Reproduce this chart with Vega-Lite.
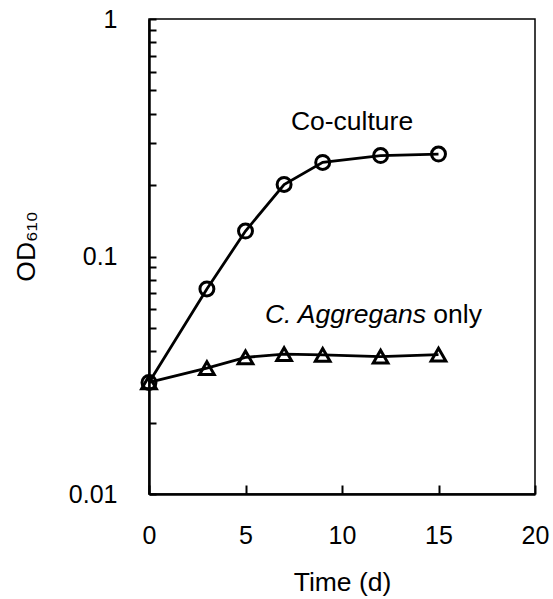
{
  "$schema": "https://vega.github.io/schema/vega-lite/v6.json",
  "width": 386,
  "height": 475,
  "autosize": {"type": "none"},
  "padding": {"left": 149, "top": 19, "right": 18, "bottom": 105},
  "background": "white",
  "config": {
    "view": {"stroke": "black", "strokeWidth": 1.5},
    "font": "Liberation Sans"
  },
  "datasets": {
    "growth": [
      {"series": "Co-culture", "time": 0, "od": 0.0295},
      {"series": "Co-culture", "time": 3, "od": 0.073},
      {"series": "Co-culture", "time": 5, "od": 0.128},
      {"series": "Co-culture", "time": 7, "od": 0.201},
      {"series": "Co-culture", "time": 9, "od": 0.249},
      {"series": "Co-culture", "time": 12, "od": 0.266},
      {"series": "Co-culture", "time": 15, "od": 0.27},
      {"series": "C. Aggregans only", "time": 0, "od": 0.0295},
      {"series": "C. Aggregans only", "time": 3, "od": 0.0339},
      {"series": "C. Aggregans only", "time": 5, "od": 0.0376},
      {"series": "C. Aggregans only", "time": 7, "od": 0.0388},
      {"series": "C. Aggregans only", "time": 9, "od": 0.0385},
      {"series": "C. Aggregans only", "time": 12, "od": 0.0379},
      {"series": "C. Aggregans only", "time": 15, "od": 0.0386}
    ],
    "labels": [
      {"label": "Co-culture", "time": 10.52, "od": 0.341, "part": "plain-center"},
      {"label": "C. Aggregans", "time": 14.35, "od": 0.0525, "part": "italic"},
      {"label": "only", "time": 14.35, "od": 0.0525, "part": "plain-after"}
    ]
  },
  "layer": [
    {
      "data": {"name": "growth"},
      "mark": {"type": "line", "stroke": "black", "strokeWidth": 2.8},
      "encoding": {
        "x": {
          "field": "time", "type": "quantitative",
          "scale": {"domain": [0, 20], "nice": false, "zero": false},
          "axis": {
            "title": "Time (d)",
            "values": [0, 5, 10, 15, 20],
            "grid": false,
            "tickSize": -9,
            "tickWidth": 2,
            "tickColor": "black",
            "domainColor": "black",
            "domainWidth": 2.5,
            "labelFontSize": 25,
            "labelColor": "black",
            "labelPadding": 58,
            "labelBaseline": "alphabetic",
            "labelFlush": false,
            "labelBound": false,
            "labelOverlap": false,
            "titleFontSize": 26.5,
            "titleFontWeight": "normal",
            "titleColor": "black",
            "titleY": 96,
            "titleBaseline": "alphabetic"
          }
        },
        "y": {
          "field": "od", "type": "quantitative",
          "scale": {"type": "log", "domain": [0.01, 1], "nice": false},
          "axis": {
            "title": "OD₆₁₀",
            "values": [0.01, 0.02, 0.03, 0.04, 0.05, 0.06, 0.07, 0.08, 0.09, 0.1, 0.2, 0.3, 0.4, 0.5, 0.6, 0.7, 0.8, 0.9, 1],
            "labelExpr": "datum.value == 1 ? '1' : datum.value == 0.1 ? '0.1' : datum.value == 0.01 ? '0.01' : ''",
            "grid": false,
            "tickSize": -7,
            "tickWidth": 2,
            "tickColor": "black",
            "domainColor": "black",
            "domainWidth": 2.5,
            "labelFontSize": 25,
            "labelColor": "black",
            "labelPadding": 39,
            "labelBaseline": "middle",
            "labelFlush": false,
            "labelBound": false,
            "labelOverlap": false,
            "titleFontSize": 26.5,
            "titleFontWeight": "normal",
            "titleColor": "black",
            "titleAngle": -90,
            "titleX": -123,
            "titleY": 227,
            "titleAlign": "center",
            "titleBaseline": "middle"
          }
        },
        "detail": {"field": "series"}
      }
    },
    {
      "data": {"name": "growth"},
      "mark": {"type": "point", "filled": false, "stroke": "black", "strokeWidth": 3, "opacity": 1},
      "encoding": {
        "x": {"field": "time", "type": "quantitative"},
        "y": {"field": "od", "type": "quantitative"},
        "shape": {
          "field": "series", "type": "nominal",
          "scale": {"domain": ["Co-culture", "C. Aggregans only"], "range": ["circle", "triangle-up"]},
          "legend": null
        },
        "size": {
          "field": "series", "type": "nominal",
          "scale": {"domain": ["Co-culture", "C. Aggregans only"], "range": [195, 215]},
          "legend": null
        }
      }
    },
    {
      "data": {"name": "labels"},
      "transform": [{"filter": "datum.part == 'plain-center'"}],
      "mark": {"type": "text", "fontSize": 26.5, "align": "center", "baseline": "alphabetic", "color": "black"},
      "encoding": {
        "x": {"field": "time", "type": "quantitative"},
        "y": {"field": "od", "type": "quantitative"},
        "text": {"field": "label"}
      }
    },
    {
      "data": {"name": "labels"},
      "transform": [{"filter": "datum.part == 'italic'"}],
      "mark": {"type": "text", "fontSize": 26.5, "fontStyle": "italic", "align": "right", "baseline": "alphabetic", "color": "black"},
      "encoding": {
        "x": {"field": "time", "type": "quantitative"},
        "y": {"field": "od", "type": "quantitative"},
        "text": {"field": "label"}
      }
    },
    {
      "data": {"name": "labels"},
      "transform": [{"filter": "datum.part == 'plain-after'"}],
      "mark": {"type": "text", "fontSize": 26.5, "align": "left", "baseline": "alphabetic", "dx": 7.4, "color": "black"},
      "encoding": {
        "x": {"field": "time", "type": "quantitative"},
        "y": {"field": "od", "type": "quantitative"},
        "text": {"field": "label"}
      }
    }
  ]
}
